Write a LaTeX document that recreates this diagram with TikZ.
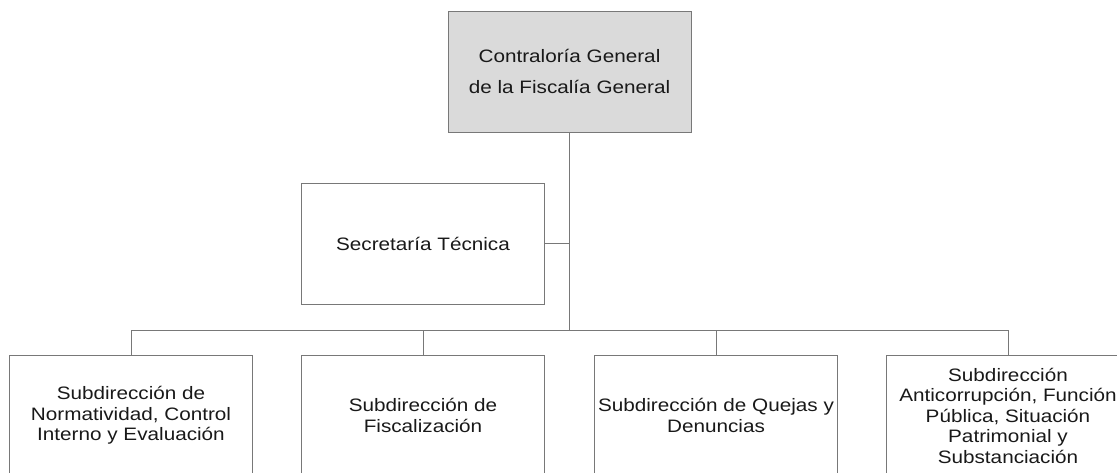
\documentclass[tikz,border=0pt]{standalone}
\usepackage{fontspec}
\setmainfont{Liberation Sans}[FakeStretch=1.15]
\usepackage{tikz}
\usetikzlibrary{calc,positioning}
\definecolor{lineg}{RGB}{120,120,120}
\definecolor{boxg}{RGB}{218,218,218}

\begin{document}
\begin{tikzpicture}[x=1pt,y=-1pt,
	box/.style={draw=lineg,line width=1pt,minimum width=243pt,minimum height=121pt,
		align=center,inner sep=1pt,text=black!90,font=\fontsize{18}{20.5}\selectfont},
	link/.style={draw=lineg,line width=1pt}]
			\useasboundingbox (0,0) rectangle (1117,472);
			\clip (0,0) rectangle (1117,472);
			\coordinate (bus) at (569.5,330);
			
			%head
			\node[box,fill=boxg,font=\fontsize{18}{31}\selectfont] (cg) at (569.5,71.5) {Contraloría General\\de la Fiscalía General};
			%staff
			\node[box] (st) at (423,243.5) {Secretaría Técnica};
			
			%subdirecciones
			\node[box] (s1) at (131,415.5) {Subdirección de\\Normatividad, Control\\Interno y Evaluación};
			\node[box] (s2) at (423,415.5) {Subdirección de\\Fiscalización};
			\node[box] (s3) at (716,415.5) {Subdirección de Quejas y\\Denuncias};
			\node[box] (s4) at (1008,415.5) {Subdirección\\Anticorrupción, Función\\Pública, Situación\\Patrimonial y\\Substanciación};
			
			%lines
			\draw[link] (cg.south) -- (bus);
			\draw[link] (st.east) -- (st.east -| bus);
			\foreach \n in {s1,s2,s3,s4}{
				\draw[link] (bus) -| (\n.north);
			}
			
			\end{tikzpicture}
\end{document}
